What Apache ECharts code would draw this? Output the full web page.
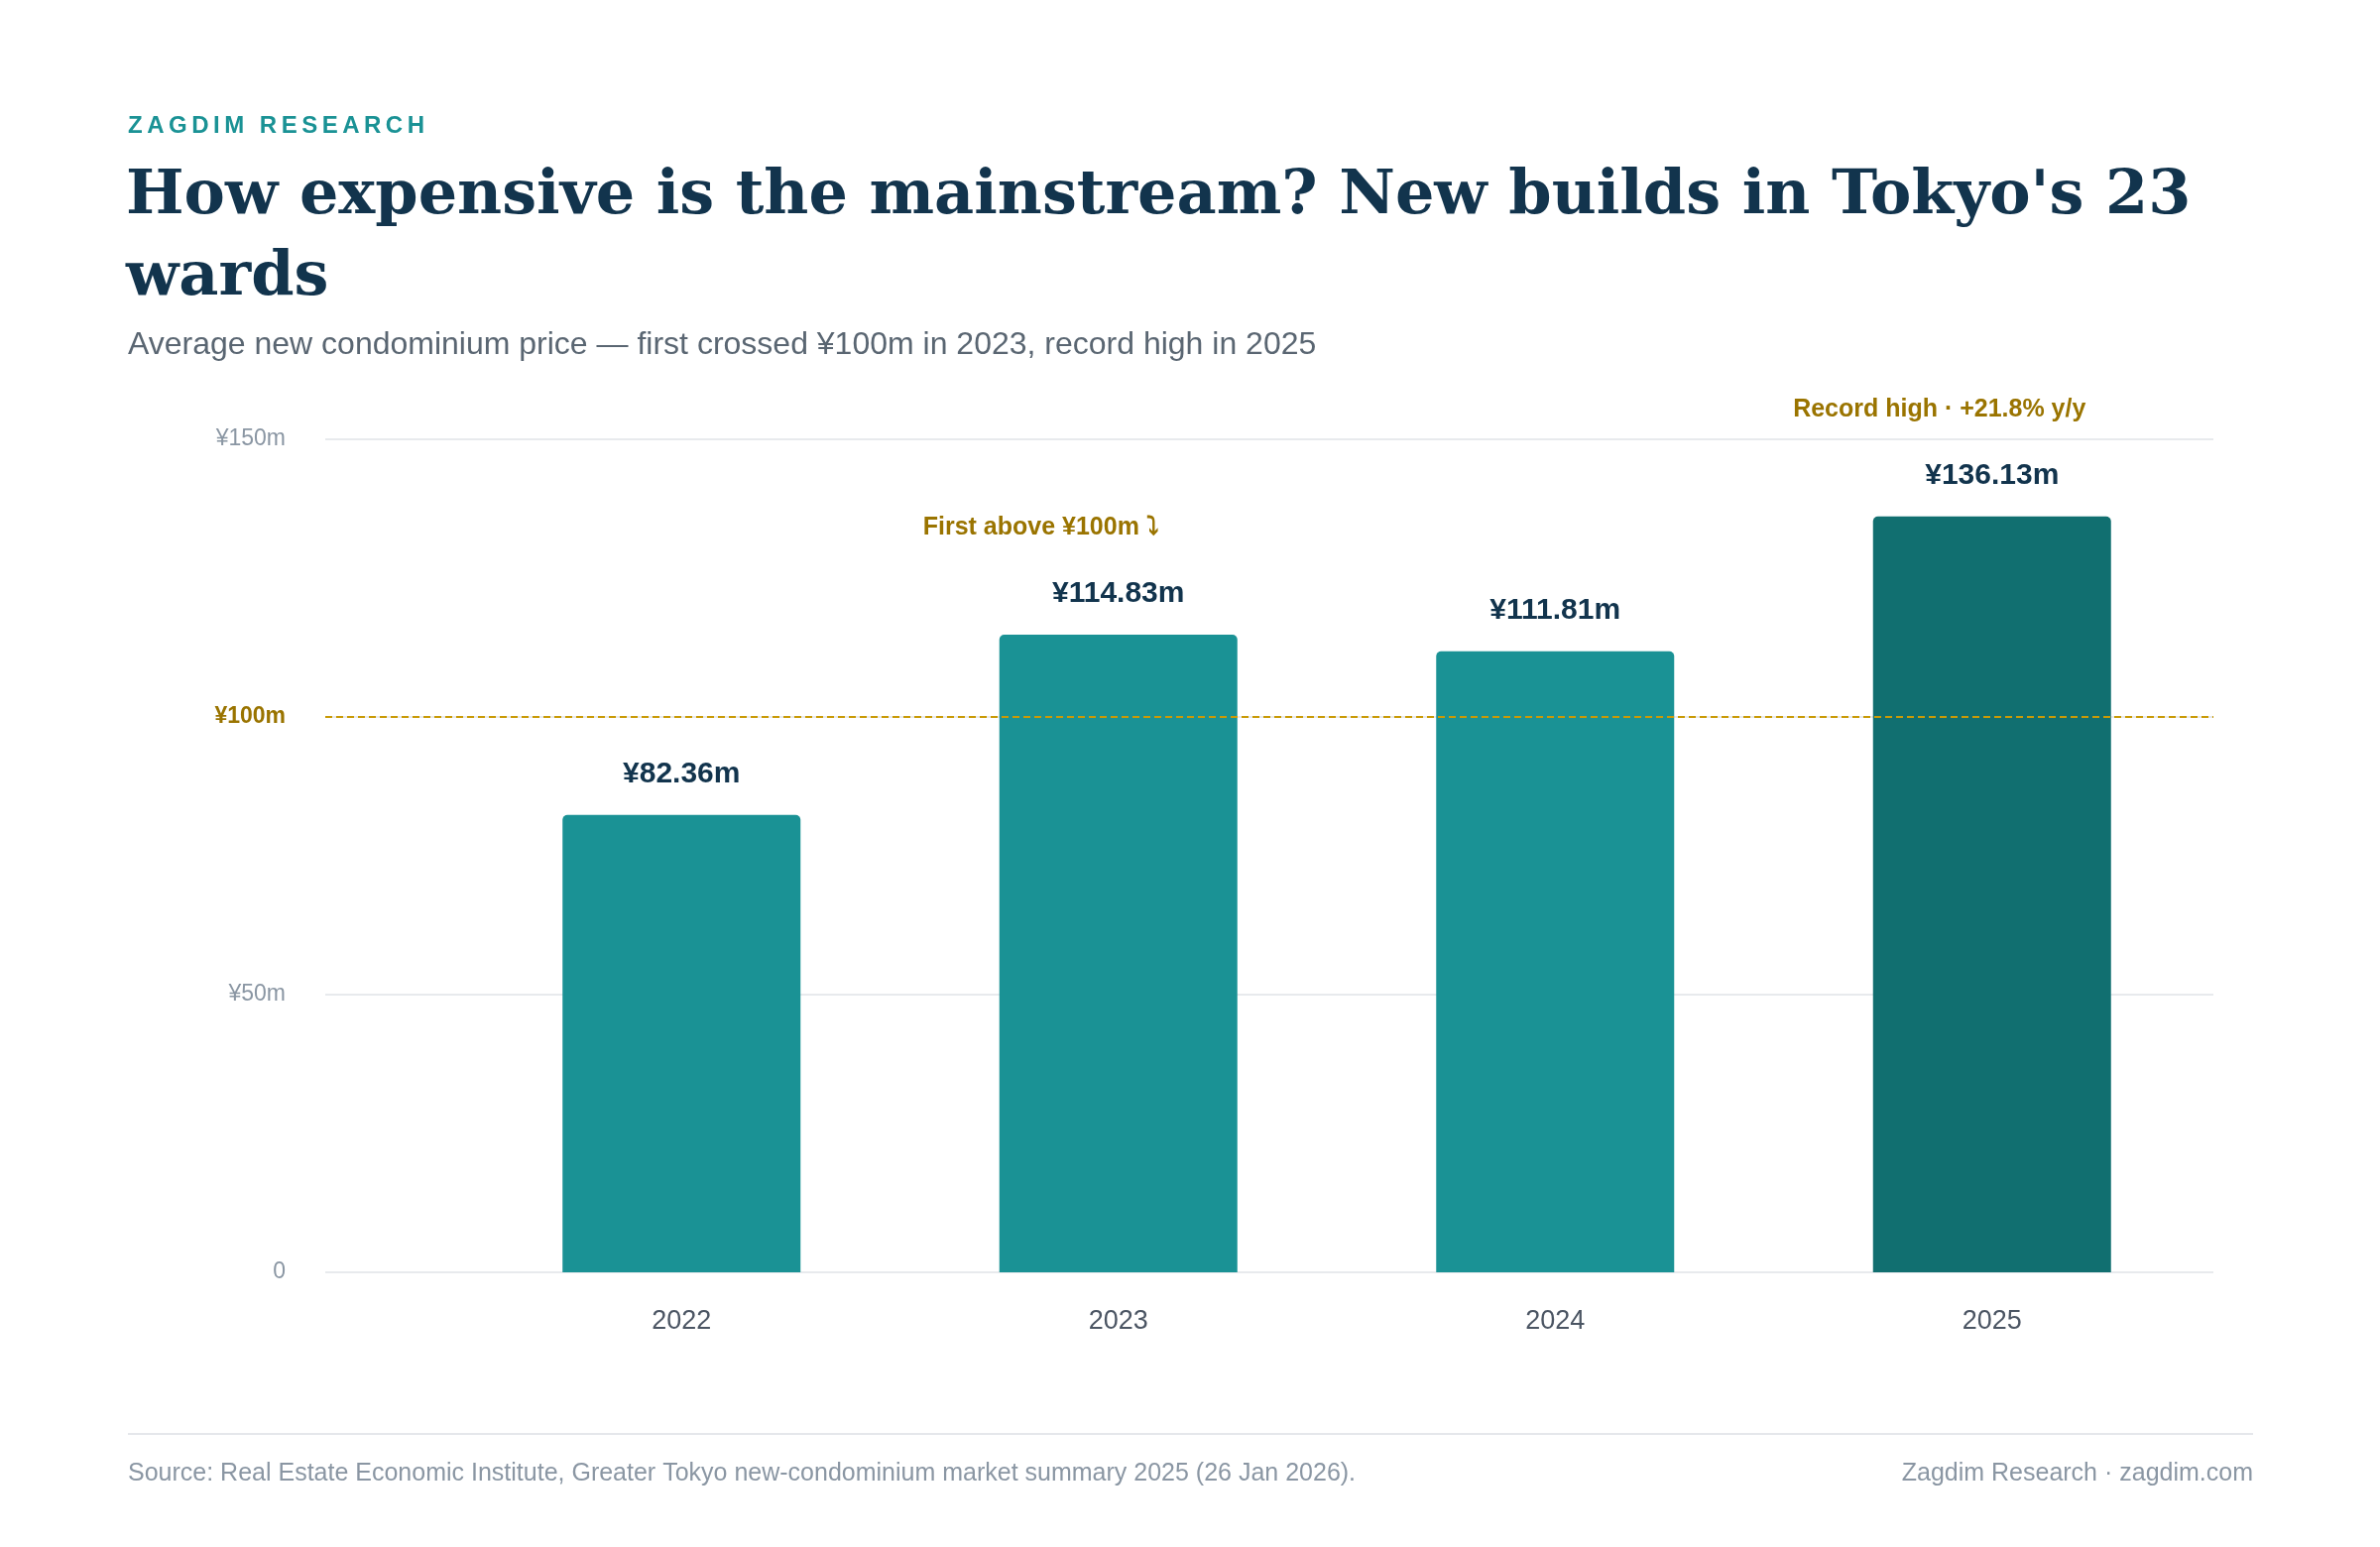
<!DOCTYPE html>
<html>
<head>
<meta charset="utf-8">
<script src="https://cdn.jsdelivr.net/npm/echarts@6/dist/echarts.min.js"></script>
<style>
  html, body { margin: 0; padding: 0; background: #fff; }
  #chart { width: 2400px; height: 1560px; }
  .brand { position: absolute; z-index: 10; left: 129px; top: 112px; font: bold 24px Helvetica, Arial, 'Liberation Sans', sans-serif; letter-spacing: 4.5px; color: #1a9295; }
</style>
</head>
<body>
<div class="brand">ZAGDIM RESEARCH</div>
<div id="chart"></div>
<script>
const years = ["2022", "2023", "2024", "2025"];
const prices = [82.36, 114.83, 111.81, 136.13];
const yTicks = [0, 50, 100, 150];
const threshold = 100;

const sans = "Helvetica, Arial, 'Liberation Sans', sans-serif";
const chart = echarts.init(document.getElementById("chart"));

const barData = prices.map((v, i) => ({
  value: v,
  itemStyle: { color: i === prices.length - 1 ? "#116f70" : "#1a9295" }
}));

const yBase = {
  type: "value",
  min: yTicks[0],
  max: yTicks[yTicks.length - 1],
  interval: 50,
  axisLine: { show: false },
  axisTick: { show: false }
};

chart.setOption({
  backgroundColor: "#fff",
  animation: false,
  textStyle: { fontFamily: sans },
  graphic: [
    { type: "text", left: 127, top: 158, style: { text: "How expensive is the mainstream? New builds in Tokyo's 23\nwards", fill: "#12344d", font: "bold 62px Georgia, 'DejaVu Serif', serif", lineHeight: 82 } },
    { type: "text", left: 129, top: 332, style: { text: "Average new condominium price — first crossed ¥100m in 2023, record high in 2025", fill: "#5a6672", font: "32px " + sans } },
    { type: "line", shape: { x1: 129, y1: 1446, x2: 2272, y2: 1446 }, style: { stroke: "#e5e7eb", lineWidth: 2 } },
    { type: "text", left: 129, top: 1474, style: { text: "Source: Real Estate Economic Institute, Greater Tokyo new-condominium market summary 2025 (26 Jan 2026).", fill: "#8a96a3", font: "25px " + sans } },
    { type: "text", right: 128, top: 1474, style: { text: "Zagdim Research · zagdim.com", fill: "#8a96a3", font: "25px " + sans } }
  ],
  grid: [
    { left: 328, right: 168, top: 443, bottom: 277 },
    { left: 467, right: 171, top: 443, bottom: 277 }
  ],
  xAxis: [
    { type: "category", gridIndex: 0, data: years, show: false },
    {
      type: "category",
      gridIndex: 1,
      data: years,
      axisTick: { show: false },
      axisLine: { show: false },
      axisLabel: { margin: 36, color: "#4b5563", fontSize: 27 }
    }
  ],
  yAxis: [
    Object.assign({}, yBase, {
      gridIndex: 0,
      splitLine: { lineStyle: { color: "#e8eaed", width: 2 } },
      axisLabel: {
        margin: 40,
        fontSize: 23,
        color: "#8a96a3",
        formatter: v => v === threshold ? "{hl|¥" + v + "m}" : (v === 0 ? "0" : "¥" + v + "m"),
        rich: { hl: { color: "#9a7400", fontWeight: "bold", fontSize: 23 } }
      }
    }),
    Object.assign({}, yBase, { gridIndex: 1, splitLine: { show: false }, axisLabel: { show: false } })
  ],
  series: [
    {
      type: "bar",
      xAxisIndex: 0,
      yAxisIndex: 0,
      data: [],
      markLine: {
        silent: true,
        symbol: "none",
        label: { show: false },
        lineStyle: { color: "#c99a06", type: [7, 4], width: 2 },
        data: [{ yAxis: threshold }]
      }
    },
    {
      type: "bar",
      xAxisIndex: 1,
      yAxisIndex: 1,
      data: barData,
      barWidth: 240,
      z: 3,
      itemStyle: { borderRadius: [5, 5, 0, 0] },
      label: {
        show: true,
        position: "top",
        distance: 26,
        formatter: p => "¥" + p.value.toFixed(2) + "m",
        color: "#12344d",
        fontWeight: "bold",
        fontSize: 30
      },
      markPoint: {
        silent: true,
        symbol: "rect",
        symbolSize: 1,
        itemStyle: { color: "transparent" },
        data: [
          {
            coord: ["2023", 134],
            label: { show: true, formatter: "First above ¥100m ⤵", color: "#9a7400", fontWeight: "bold", fontSize: 25, offset: [-78, 0] }
          },
          {
            coord: ["2025", 150],
            label: { show: true, formatter: "Record high · +21.8% y/y", color: "#9a7400", fontWeight: "bold", fontSize: 25, offset: [-53, -30] }
          }
        ]
      }
    }
  ]
});
</script>
</body>
</html>
